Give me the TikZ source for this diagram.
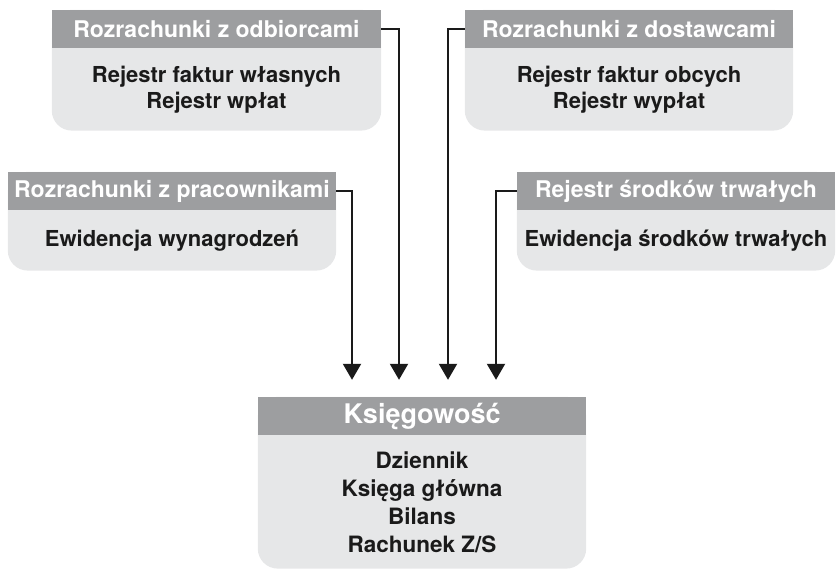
\documentclass[tikz,border=0pt]{standalone}
\usepackage{fontspec}
\setmainfont{TeX Gyre Heros}
\usetikzlibrary{positioning, arrows.meta, calc, backgrounds}
\definecolor{headGray}{HTML}{9D9EA0}
\definecolor{bodyGray}{HTML}{E6E7E8}
\definecolor{textDark}{HTML}{1A1A1A}

\begin{document}
\begin{tikzpicture}[
  x=1pt, y=1pt,
  % Styles
  header/.style={
    rectangle, fill=headGray, inner sep=0pt,
    minimum width=#1, minimum height=38pt,
    text=white, font=\bfseries\fontsize{23}{27}\selectfont
  },
  header/.default=328pt,
  content/.style={
    rectangle, inner sep=0pt, minimum height=#1,
    text=textDark, align=center,
    font=\bfseries\fontsize{22}{26}\selectfont
  },
  panel/.style={fill=bodyGray, rounded corners=20pt},
  feed/.style={
    -{Triangle[length=16pt, width=18pt]}, line width=2pt, draw=textDark
  },
]
\useasboundingbox (0,0) rectangle (840,-570);

% === SOURCE MODULES ===
\node[header=329pt] (odb) at (216.5,-29) {Rozrachunki z odbiorcami};
\node[content=82pt, below=0pt of odb] (odbList) {Rejestr faktur własnych\\Rejestr wpłat};

\node[header=328pt] (dost) at (629,-29) {Rozrachunki z dostawcami};
\node[content=82pt, below=0pt of dost] (dostList) {Rejestr faktur obcych\\Rejestr wypłat};

\node[header=328pt] (prac) at (172,-191) {Rozrachunki z pracownikami};
\node[content=60pt, below=0pt of prac] (pracList) {Ewidencja wynagrodzeń};

\node[header=318pt] (srod) at (676,-191) {Rejestr środków trwałych};
\node[content=60pt, below=0pt of srod] (srodList) {Ewidencja środków trwałych};

% === ACCOUNTING ===
\node[header=328pt, font=\bfseries\fontsize{27}{32}\selectfont] (ksieg) at (422,-416) {Księgowość};
\node[content=133pt, below=0pt of ksieg, font=\bfseries\fontsize{22.5}{28}\selectfont] (ksiegList)
  {Dziennik\\Księga główna\\Bilans\\Rachunek Z/S};

% === Arrow ends ===
\coordinate (inPrac) at ($(ksieg.north)+(-70,17)$);
\coordinate (inOdb)  at ($(ksieg.north)+(-23,17)$);
\coordinate (inDost) at ($(ksieg.north)+(26,17)$);
\coordinate (inSrod) at ($(ksieg.north)+(74,17)$);

\draw[feed] (prac.east) -| (inPrac);
\draw[feed] (odb.east) -| (inOdb);
\draw[feed] (dost.west) -| (inDost);
\draw[feed] (srod.west) -| (inSrod);

% === Panels behind the lists ===
\begin{scope}[on background layer]
  \foreach \h/\b in {odb/odbList, dost/dostList, prac/pracList, srod/srodList, ksieg/ksiegList}
    \fill[panel] (\h.north west) -- (\h.north west |- \b.south)
      -- (\h.north east |- \b.south) -- (\h.north east) -- cycle;
\end{scope}

\end{tikzpicture}
\end{document}
